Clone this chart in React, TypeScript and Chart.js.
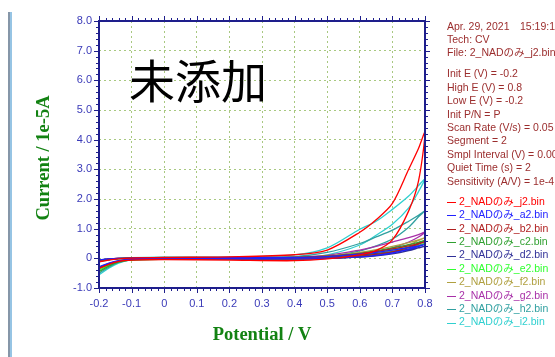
import { useEffect, useRef } from "react";
import { Chart, registerables } from "chart.js";

Chart.register(...registerables);

// Potential sweep: forward -0.2 -> 0.8, then reverse 0.8 -> -0.2 (V)
const POTENTIAL = [-0.2, -0.17, -0.14, -0.1, 0, 0.2, 0.4, 0.5, 0.6, 0.65, 0.7, 0.75, 0.78, 0.8,
  0.78, 0.75, 0.7, 0.65, 0.6, 0.5, 0.4, 0.2, 0, -0.1, -0.14, -0.17, -0.2];

// Current (1e-5 A)
const J2 = [-0.12, -0.06, -0.02, 0.01, 0.03, 0.05, 0.12, 0.28, 0.88, 1.3, 1.85, 3.0, 3.7, 4.25,
  2.6, 1.6, 0.62, 0.26, 0.12, -0.02, -0.08, -0.06, -0.04, -0.06, -0.1, -0.2, -0.35];
const A2 = [-0.05, -0.02, 0, 0.01, 0.02, 0.02, 0.03, 0.06, 0.14, 0.2, 0.28, 0.36, 0.42, 0.47,
  0.4, 0.3, 0.18, 0.1, 0.05, 0, -0.02, -0.02, -0.02, -0.03, -0.08, -0.16, -0.28];
const B2 = [-0.08, -0.03, 0, 0.01, 0.02, 0.02, 0.03, 0.07, 0.16, 0.23, 0.32, 0.42, 0.5, 0.56,
  0.48, 0.36, 0.22, 0.13, 0.07, 0.01, -0.02, -0.03, -0.03, -0.04, -0.1, -0.2, -0.33];
const C2 = [-0.1, -0.04, -0.01, 0.01, 0.02, 0.02, 0.03, 0.07, 0.17, 0.25, 0.35, 0.46, 0.54, 0.6,
  0.5, 0.38, 0.23, 0.13, 0.07, 0.01, -0.02, -0.03, -0.03, -0.05, -0.13, -0.26, -0.45];
const D2 = [-0.06, -0.02, 0, 0.01, 0.02, 0.02, 0.02, 0.05, 0.11, 0.16, 0.22, 0.3, 0.36, 0.41,
  0.35, 0.26, 0.15, 0.08, 0.04, 0, -0.02, -0.02, -0.02, -0.04, -0.09, -0.18, -0.3];
const E2 = [-0.09, -0.04, -0.01, 0.01, 0.02, 0.02, 0.03, 0.06, 0.15, 0.21, 0.29, 0.38, 0.45, 0.5,
  0.42, 0.32, 0.19, 0.1, 0.05, 0, -0.02, -0.03, -0.03, -0.05, -0.12, -0.24, -0.4];
const F2 = [-0.07, -0.03, 0, 0.01, 0.02, 0.02, 0.03, 0.08, 0.2, 0.29, 0.4, 0.53, 0.62, 0.7,
  0.6, 0.45, 0.28, 0.16, 0.09, 0.02, -0.02, -0.03, -0.03, -0.04, -0.1, -0.2, -0.34];
const G2 = [-0.08, -0.03, 0, 0.01, 0.02, 0.03, 0.04, 0.1, 0.28, 0.4, 0.55, 0.7, 0.8, 0.88,
  0.72, 0.55, 0.35, 0.2, 0.12, 0.03, -0.01, -0.02, -0.03, -0.04, -0.11, -0.22, -0.36];
const H2 = [-0.1, -0.04, -0.01, 0.01, 0.03, 0.03, 0.06, 0.2, 0.5, 0.72, 0.95, 1.25, 1.45, 1.6,
  1.4, 1.05, 0.65, 0.42, 0.25, 0.05, 0, -0.01, -0.02, -0.05, -0.14, -0.3, -0.5];
const I2 = [-0.12, -0.05, -0.01, 0.02, 0.04, 0.04, 0.12, 0.35, 0.98, 1.25, 1.65, 2.1, 2.45, 2.68,
  2.25, 1.7, 1.15, 0.78, 0.45, 0.12, 0.02, 0, -0.01, -0.05, -0.16, -0.33, -0.56];

const SERIES_NAMES = [
  "2_NADのみ_j2.bin", "2_NADのみ_a2.bin", "2_NADのみ_b2.bin", "2_NADのみ_c2.bin", "2_NADのみ_d2.bin",
  "2_NADのみ_e2.bin", "2_NADのみ_f2.bin", "2_NADのみ_g2.bin", "2_NADのみ_h2.bin", "2_NADのみ_i2.bin",
];
const SERIES_VALUES = [J2, A2, B2, C2, D2, E2, F2, G2, H2, I2];
const SERIES_COLORS = ["#ff0000", "#2020ff", "#b02020", "#30a030", "#303098", "#30ff30", "#b0a040", "#a830a8", "#30a0a0", "#30d0d0"];

const X_MIN = -0.2, X_MAX = 0.8, X_STEP = 0.1, X_MINOR = 0.02;
const Y_MIN = -1, Y_MAX = 8, Y_STEP = 1, Y_MINOR = 0.2;

const BIG_TITLE = "未添加";
const X_TITLE = "Potential / V";
const Y_TITLE = "Current / 1e-5A";
const HEADER_LINES = ["Apr. 29, 2021", "Tech: CV", "File: 2_NADのみ_j2.bin"];
const HEADER_TIME = "15:19:15";
const PARAM_LINES = [
  "Init E (V) = -0.2", "High E (V) = 0.8", "Low E (V) = -0.2", "Init P/N = P",
  "Scan Rate (V/s) = 0.05", "Segment = 2", "Smpl Interval (V) = 0.001", "Quiet Time (s) = 2",
  "Sensitivity (A/V) = 1e-4",
];

const AXIS_COLOR = "#1e1e8c";
const TICK_LABEL_COLOR = "#3a3ab8";
const INFO_COLOR = "#9b2d2d";
const TITLE_GREEN = "#128212";
const GRID_COLOR = "#a8c880";
const SANS = '"Liberation Sans", Arial, "Noto Sans CJK JP", sans-serif';

function fmt(v: number): string {
  if (Math.abs(v) < 1e-9) return "0";
  return v.toFixed(1);
}

const decorPlugin = {
  id: "decor",
  afterDatasetsDraw(chart: any) {
    const { ctx, chartArea: a, scales } = chart;
    const xs = scales.x, ys = scales.y;
    ctx.save();
    ctx.strokeStyle = AXIS_COLOR;
    ctx.lineWidth = 1;
    const nX = Math.round((X_MAX - X_MIN) / X_MINOR);
    for (let i = 0; i <= nX; i++) {
      const v = X_MIN + i * X_MINOR;
      const px = Math.round(xs.getPixelForValue(v)) + 0.5;
      const major = i % 5 === 0;
      const len = major ? 5 : 3;
      ctx.beginPath();
      ctx.moveTo(px, a.bottom); ctx.lineTo(px, a.bottom + len);
      ctx.moveTo(px, a.top); ctx.lineTo(px, a.top - len);
      ctx.stroke();
    }
    const nY = Math.round((Y_MAX - Y_MIN) / Y_MINOR);
    for (let i = 0; i <= nY; i++) {
      const v = Y_MIN + i * Y_MINOR;
      const py = Math.round(ys.getPixelForValue(v)) + 0.5;
      const major = i % 5 === 0;
      const len = major ? 5 : 3;
      ctx.beginPath();
      ctx.moveTo(a.left, py); ctx.lineTo(a.left - len, py);
      ctx.moveTo(a.right, py); ctx.lineTo(a.right + len, py);
      ctx.stroke();
    }
    ctx.lineWidth = 2;
    ctx.strokeRect(a.left, a.top, a.right - a.left, a.bottom - a.top);
    ctx.restore();
  },
  afterDraw(chart: any) {
    const { ctx, chartArea: a } = chart;
    ctx.save();
    ctx.fillStyle = "#8696a8";
    ctx.fillRect(8, 12, 2, 345);
    ctx.fillStyle = "#96c4e4";
    ctx.fillRect(10, 12, 2, 345);

    ctx.fillStyle = "#000000";
    ctx.font = '46px "Noto Sans CJK JP", sans-serif';
    ctx.textBaseline = "middle";
    ctx.textAlign = "left";
    ctx.fillText(BIG_TITLE, 129, 81);

    ctx.fillStyle = TITLE_GREEN;
    ctx.font = 'bold 18.5px "Liberation Serif", "Times New Roman", serif';
    ctx.textAlign = "center";
    ctx.fillText(X_TITLE, (a.left + a.right) / 2, 335);
    ctx.save();
    ctx.translate(44, 158);
    ctx.rotate(-Math.PI / 2);
    ctx.fillText(Y_TITLE, 0, 0);
    ctx.restore();

    ctx.font = "10.5px " + SANS;
    ctx.textAlign = "left";
    ctx.fillStyle = INFO_COLOR;
    const x0 = 447;
    HEADER_LINES.forEach((t, i) => ctx.fillText(t, x0, 27 + i * 13.3));
    ctx.fillText(HEADER_TIME, 520, 27);
    PARAM_LINES.forEach((t, i) => ctx.fillText(t, x0, 74.5 + i * 13.4));

    chart.data.datasets.forEach((ds: any, i: number) => {
      const y = 202 + i * 13.4;
      ctx.strokeStyle = ds.borderColor;
      ctx.lineWidth = 1;
      ctx.beginPath();
      ctx.moveTo(447, Math.round(y) + 0.5);
      ctx.lineTo(456, Math.round(y) + 0.5);
      ctx.stroke();
      ctx.fillStyle = ds.borderColor;
      ctx.fillText(ds.label, 459, y);
    });
    ctx.restore();
  },
};

export default function App() {
  const ref = useRef<HTMLCanvasElement | null>(null);
  useEffect(() => {
    if (!ref.current) return;
    const datasets = SERIES_VALUES.map((vals, i) => ({
      label: SERIES_NAMES[i],
      data: vals.map((y, k) => ({ x: POTENTIAL[k], y })),
      borderColor: SERIES_COLORS[i],
      backgroundColor: SERIES_COLORS[i],
      borderWidth: 1.3,
      pointRadius: 0,
      showLine: true,
      tension: 0.3,
      fill: false,
    }));
    const chart = new Chart(ref.current, {
      type: "scatter",
      data: { datasets },
      options: {
        animation: false,
        responsive: false,
        devicePixelRatio: 1,
        layout: { padding: { left: 0, top: 21, right: 130, bottom: 0 } },
        plugins: { legend: { display: false }, tooltip: { enabled: false }, title: { display: false } },
        scales: {
          x: {
            type: "linear",
            min: X_MIN,
            max: X_MAX,
            afterFit: (s: any) => { s.height = 69; },
            ticks: {
              stepSize: X_STEP,
              color: TICK_LABEL_COLOR,
              font: { family: SANS, size: 11 },
              padding: 4,
              callback: (v: any) => fmt(Number(v)),
            },
            grid: { color: GRID_COLOR, lineWidth: 1, tickLength: 5, tickColor: "rgba(0,0,0,0)" },
            border: { display: false, dash: [2, 3] },
          },
          y: {
            type: "linear",
            min: Y_MIN,
            max: Y_MAX,
            afterFit: (s: any) => { s.width = 99; },
            ticks: {
              stepSize: Y_STEP,
              color: TICK_LABEL_COLOR,
              font: { family: SANS, size: 11 },
              padding: 2,
              callback: (v: any) => fmt(Number(v)),
            },
            grid: { color: GRID_COLOR, lineWidth: 1, tickLength: 5, tickColor: "rgba(0,0,0,0)" },
            border: { display: false, dash: [2, 3] },
          },
        },
      } as any,
      plugins: [decorPlugin],
    });
    return () => chart.destroy();
  }, []);
  return (
    <div style={{ position: "absolute", left: 0, top: 0, width: 555, height: 357, background: "#fff" }}>
      <canvas ref={ref} width={555} height={357} style={{ display: "block" }} />
    </div>
  );
}
